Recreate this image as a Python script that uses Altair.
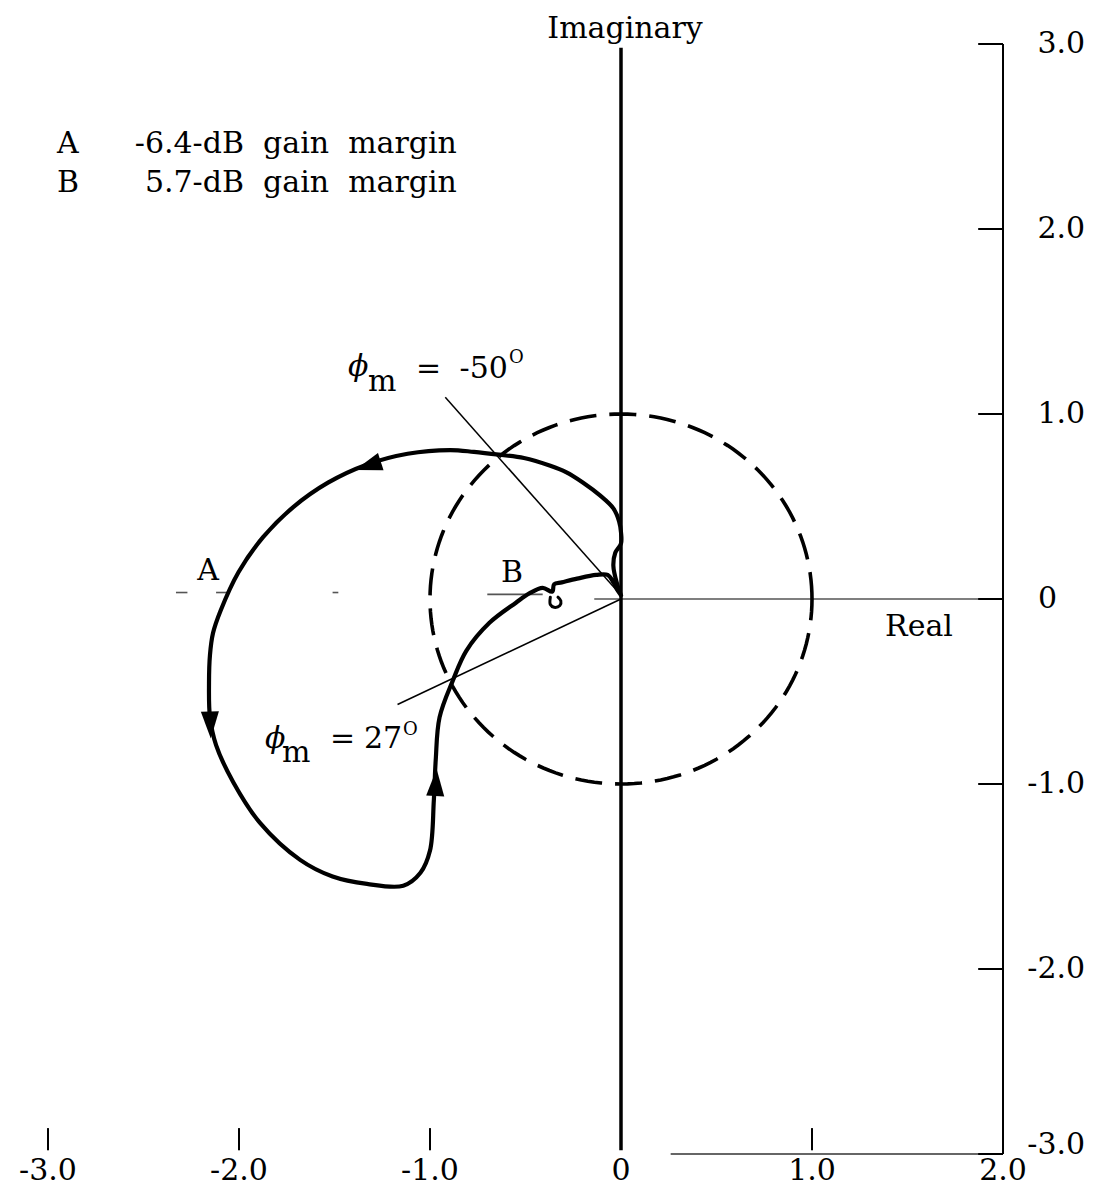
import altair as alt
import pandas as pd
import numpy as np

# ---------------- data ----------------
# Nyquist locus, in traversal order (real part, imaginary part)
curve_re = [0.00, -0.02, -0.04, -0.03, 0.00, 0.00, -0.01, -0.04, -0.11, -0.20,
            -0.288, -0.37, -0.508, -0.64, -0.77, -0.895, -1.117, -1.332, -1.534, -1.716,
            -1.874, -2.002, -2.096, -2.136, -2.152, -2.157, -2.152, -2.12, -2.03, -1.89,
            -1.68, -1.51, -1.33, -1.14, -1.05, -1.00, -0.98, -0.97, -0.95, -0.88,
            -0.81, -0.69, -0.55, -0.48, -0.41, -0.36, -0.35, -0.31, -0.23, -0.13,
            -0.07, -0.04, -0.02, 0.00]
curve_im = [0.02, 0.08, 0.18, 0.25, 0.30, 0.36, 0.42, 0.49, 0.56, 0.63,
            0.686, 0.72, 0.762, 0.78, 0.795, 0.805, 0.785, 0.726, 0.629, 0.497,
            0.334, 0.146, -0.062, -0.184, -0.303, -0.454, -0.638, -0.79, -0.99, -1.21,
            -1.41, -1.50, -1.54, -1.55, -1.48, -1.36, -1.09, -0.87, -0.64, -0.44,
            -0.28, -0.13, -0.02, 0.03, 0.06, 0.04, 0.08, 0.09, 0.11, 0.13,
            0.13, 0.09, 0.05, 0.02]

# small hook below the real axis near point B
hook_re = [-0.37, -0.37, -0.35, -0.32, -0.315, -0.33]
hook_im = [0.01, -0.03, -0.045, -0.035, -0.01, 0.01]

# direction arrows on the locus
arrow_re = [-1.325, -2.150, -0.969]
arrow_im = [0.720, -0.681, -0.992]
arrow_angle = [252, 178, 3]

# phase-margin lines (from the unit-circle crossing through the origin)
pm_x1 = [-0.92, -1.17]
pm_y1 = [1.09, -0.57]
pm_x2 = [0.00, 0.00]
pm_y2 = [0.02, 0.00]

# axis ticks and labels
y_ticks = [3.0, 2.0, 1.0, 0.0, -1.0, -2.0, -3.0]
y_tick_labels = ["3.0", "2.0", "1.0", "0", "-1.0", "-2.0", "-3.0"]
x_ticks = [-3.0, -2.0, -1.0, 1.0]
x_label_vals = [-3.0, -2.0, -1.0, 0.0, 1.0, 2.0]
x_tick_labels = ["-3.0", "-2.0", "-1.0", "0", "1.0", "2.0"]

NB = "\u00a0"
legend_keys = ["A", "B"]
legend_texts = ["-6.4-dB" + NB * 2 + "gain" + NB * 2 + "margin",
                "5.7-dB" + NB * 2 + "gain" + NB * 2 + "margin"]

# ---------------- scales ----------------
xs = alt.Scale(domain=[-3.2094, 2.4450], nice=False, zero=False)
ys = alt.Scale(domain=[-3.1784, 3.1946], nice=False, zero=False)
X = alt.X("x:Q", scale=xs, axis=None)
Y = alt.Y("y:Q", scale=ys, axis=None)
FONT = "DejaVu Serif"
FS = 30

# ---------------- layers ----------------
curve_df = pd.DataFrame({"x": curve_re, "y": curve_im, "o": range(len(curve_re))})
curve = alt.Chart(curve_df).mark_line(
    color="black", strokeWidth=4.2, interpolate="catmull-rom",
    strokeCap="round", strokeJoin="round"
).encode(x=X, y=Y, order="o:Q")

hook_df = pd.DataFrame({"x": hook_re, "y": hook_im, "o": range(len(hook_re))})
hook = alt.Chart(hook_df).mark_line(
    color="black", strokeWidth=3, interpolate="catmull-rom", strokeCap="round"
).encode(x=X, y=Y, order="o:Q")

# unit circle |G| = 1
th = np.linspace(0, 2 * np.pi, 181)
circ_df = pd.DataFrame({"x": np.cos(th), "y": np.sin(th), "o": range(len(th))})
circle = alt.Chart(circ_df).mark_line(
    color="black", strokeWidth=3.6, strokeDash=[27, 13]
).encode(x=X, y=Y, order="o:Q")

arrow_df = pd.DataFrame({"x": arrow_re, "y": arrow_im, "a": arrow_angle})
arrows = alt.Chart(arrow_df).mark_point(
    shape="M0,-1L0.67,1L-0.67,1Z", filled=True, color="black", opacity=1, size=729
).encode(x=X, y=Y, angle=alt.Angle("a:Q", scale=None))

pm_df = pd.DataFrame({"x": pm_x1, "y": pm_y1, "x2": pm_x2, "y2": pm_y2})
pm_lines = alt.Chart(pm_df).mark_rule(color="black", strokeWidth=1.5).encode(
    x=X, y=Y, x2="x2:Q", y2="y2:Q")

# axes drawn as rules
imag_axis = alt.Chart(pd.DataFrame({"x": [0.0], "y": [2.98], "x2": [0.0], "y2": [-2.98]})).mark_rule(
    color="black", strokeWidth=3.5).encode(x=X, y=Y, x2="x2:Q", y2="y2:Q")
right_axis = alt.Chart(pd.DataFrame({"x": [2.0], "y": [3.0], "x2": [2.0], "y2": [-3.0]})).mark_rule(
    color="black", strokeWidth=2).encode(x=X, y=Y, x2="x2:Q", y2="y2:Q")
real_axis = alt.Chart(pd.DataFrame({
    "x": [-0.14, -0.70, -2.33, -2.12, -1.51],
    "x2": [2.0, -0.41, -2.27, -2.05, -1.48],
    "y": [0.0, 0.025, 0.035, 0.035, 0.035]})).mark_rule(
    color="#555555", strokeWidth=1.6).encode(x=X, y=Y, x2="x2:Q")
bottom_line = alt.Chart(pd.DataFrame({"x": [0.26], "x2": [2.0], "y": [-3.0]})).mark_rule(
    color="#666666", strokeWidth=1.8).encode(x=X, y=Y, x2="x2:Q")

ytick_df = pd.DataFrame({"y": y_ticks})
ytick_df["x"] = 1.87
ytick_df["x2"] = 2.0
yticks = alt.Chart(ytick_df).mark_rule(color="black", strokeWidth=2).encode(x=X, y=Y, x2="x2:Q")

xtick_df = pd.DataFrame({"x": x_ticks})
xtick_df["y"] = -2.86
xtick_df["y2"] = -2.98
xticks = alt.Chart(xtick_df).mark_rule(color="black", strokeWidth=2).encode(x=X, y=Y, y2="y2:Q")


def text_layer(df, size=FS, align="left", baseline="alphabetic", style="normal", weight="normal"):
    return alt.Chart(df).mark_text(
        font=FONT, fontSize=size, align=align, baseline=baseline,
        fontStyle=style, fontWeight=weight, color="black"
    ).encode(x=X, y=Y, text="t:N")


ylab_df = pd.DataFrame({"t": y_tick_labels, "y": y_ticks})
ylab_df["x"] = np.where(ylab_df["t"] == "0", 2.283, 2.43)
# bottom label sits slightly above its tick, as in the original
ylab_df["y"] = np.where(ylab_df["t"] == "-3.0", -2.95, ylab_df["y"])
ylabels = text_layer(ylab_df, align="right", baseline="middle")

xlab_df = pd.DataFrame({"t": x_tick_labels, "x": x_label_vals})
xlab_df["y"] = -3.138
xlabels = text_layer(xlab_df, align="center")

leg_key_df = pd.DataFrame({"t": legend_keys, "x": [-2.953, -2.953], "y": [2.411, 2.2]})
leg_txt_df = pd.DataFrame({"t": legend_texts, "x": [-0.859, -0.859], "y": [2.411, 2.2]})
leg_keys = text_layer(leg_key_df)
leg_txts = text_layer(leg_txt_df, align="right")

titles_df = pd.DataFrame({"t": ["Imaginary", "Real", "A", "B"],
                          "x": [0.021, 1.560, -2.162, -0.571],
                          "y": [3.035, -0.200, 0.103, 0.092]})
titles = text_layer(titles_df, align="center")

phi_df = pd.DataFrame({"t": ["\u03d5", "\u03d5"], "x": [-1.429, -1.864], "y": [1.205, -0.805]})
phis = text_layer(phi_df, style="italic")
sub_df = pd.DataFrame({"t": ["m", "m"], "x": [-1.325, -1.775], "y": [1.124, -0.881]})
subs = text_layer(sub_df)
eq_df = pd.DataFrame({"t": ["=", "="], "x": [-1.073, -1.524], "y": [1.195, -0.805]})
eqs = text_layer(eq_df)
num_df = pd.DataFrame({"t": ["-50", "27"], "x": [-0.592, -1.146], "y": [1.195, -0.805]})
nums = text_layer(num_df, align="right")
deg_df = pd.DataFrame({"t": ["O", "O"], "x": [-0.586, -1.141], "y": [1.276, -0.735]})
degs = text_layer(deg_df, size=18)

chart = alt.layer(
    real_axis, bottom_line, imag_axis, right_axis, yticks, xticks,
    circle, pm_lines, curve, hook, arrows,
    ylabels, xlabels, leg_keys, leg_txts, titles, phis, subs, eqs, nums, degs
).properties(
    width=1080, height=1179, autosize=alt.AutoSizeParams(type="none"), padding=0,
    background="white"
).configure_view(strokeWidth=0)

chart.save("out.html", embed_options={"renderer": "svg", "actions": False})
